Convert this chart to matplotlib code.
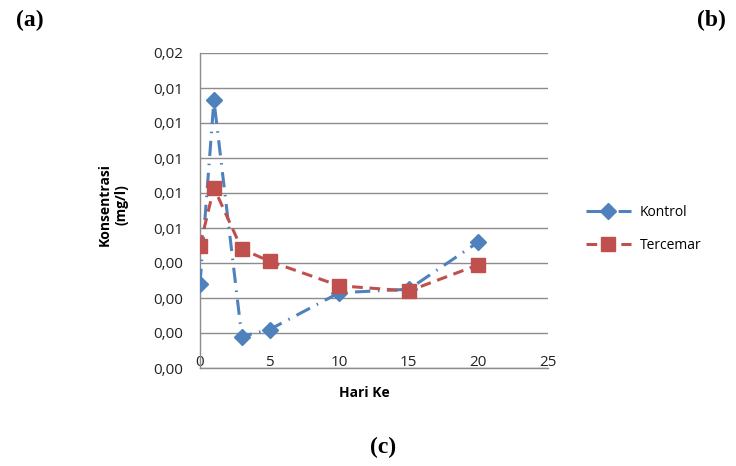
import matplotlib
matplotlib.use("Agg")
import matplotlib.pyplot as plt

hari = [0, 1, 3, 5, 10, 15, 20]
kontrol = [0.0048, 0.0153, 0.0018, 0.0022, 0.0043, 0.0045, 0.0072]
tercemar = [0.0070, 0.0103, 0.0068, 0.0061, 0.0047, 0.0044, 0.0059]

y_ticks = [0.000, 0.002, 0.004, 0.006, 0.008, 0.010, 0.012, 0.014, 0.016, 0.018]
y_labels = ["0,00", "0,00", "0,00", "0,00", "0,01", "0,01", "0,01", "0,01", "0,01", "0,02"]
x_ticks = [0, 5, 10, 15, 20, 25]

blue = "#4F81BD"
red = "#C0504D"
grid_col = "#8C8C8C"

fig = plt.figure(figsize=(7.36, 4.66), dpi=100)
ax = fig.add_axes([200 / 736, 98 / 466, 348 / 736, 315 / 466])

ax.plot(hari, kontrol, color=blue, lw=2.2, linestyle=(0, (5, 2.5, 0.5, 2.5)),
        marker="D", markersize=8.5, label="Kontrol", zorder=3)
ax.plot(hari, tercemar, color=red, lw=2.2, linestyle=(0, (3.5, 2.2)),
        marker="s", markersize=10, label="Tercemar", zorder=4)

ax.set_xlim(0, 25)
ax.set_ylim(0, 0.018)
ax.set_yticks(y_ticks)
ax.set_yticklabels(y_labels)
ax.set_xticks(x_ticks)
ax.yaxis.grid(True, color=grid_col, lw=1)
ax.set_axisbelow(True)
for s in ["top", "right"]:
    ax.spines[s].set_visible(False)
for s in ["left", "bottom"]:
    ax.spines[s].set_color(grid_col)
    ax.spines[s].set_linewidth(1)
ax.tick_params(axis="both", length=0, labelsize=11, labelcolor="#222222")
ax.tick_params(axis="y", pad=12)
ax.tick_params(axis="x", pad=-9.5)
for lab in ax.get_xticklabels() + ax.get_yticklabels():
    lab.set_fontfamily("Open Sans")

# judul sumbu
fig.text(113 / 736, 1 - 205 / 466, "Konsentrasi\n(mg/l)", rotation=90, ha="center",
         va="center", fontsize=10, fontweight="bold", family="Open Sans", linespacing=1.2)
fig.text(364 / 736, 1 - 393 / 466, "Hari Ke", ha="center", va="center",
         fontsize=10, fontweight="bold", family="Open Sans")

leg = fig.legend(loc="center left", bbox_to_anchor=(573 / 736, 1 - 229 / 466),
                 frameon=False, handlelength=3.3, handletextpad=0.6, labelspacing=1.3,
                 prop={"family": "Open Sans", "size": 10})

fig.text(30 / 736, 1 - 20 / 466, "(a)", ha="center", va="center", fontsize=17,
         fontweight="bold", family="Liberation Serif")
fig.text(711 / 736, 1 - 20 / 466, "(b)", ha="center", va="center", fontsize=17,
         fontweight="bold", family="Liberation Serif")
fig.text(383 / 736, 1 - 447 / 466, "(c)", ha="center", va="center", fontsize=17,
         fontweight="bold", family="Liberation Serif")

fig.savefig("out.png", dpi=100)
